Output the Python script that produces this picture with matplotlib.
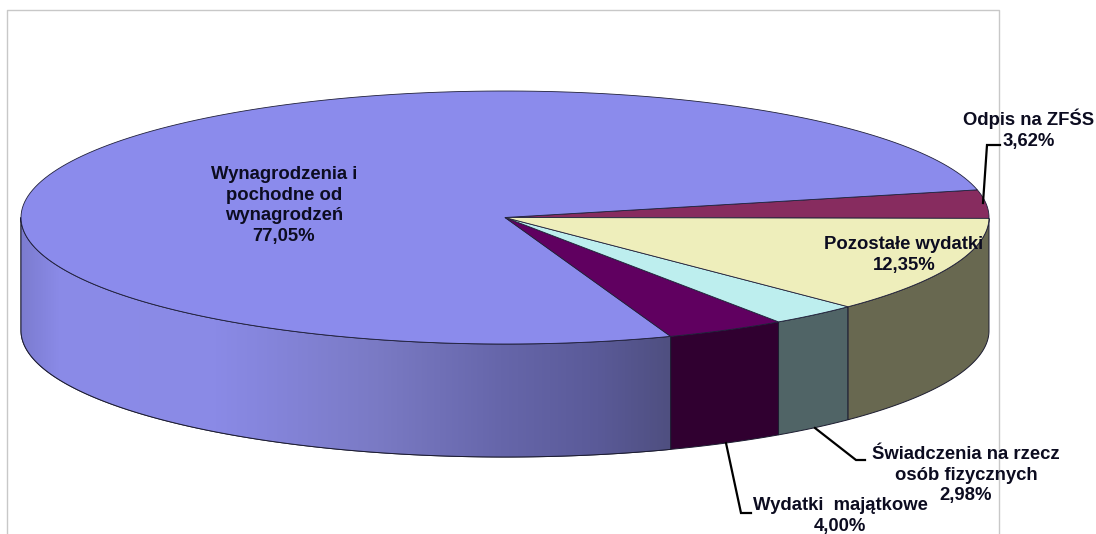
import numpy as np
import matplotlib
matplotlib.use("Agg")
import matplotlib.pyplot as plt
from matplotlib.colors import LinearSegmentedColormap
from matplotlib.patches import Polygon

plt.rcParams['font.family'] = ['Liberation Sans', 'DejaVu Sans']

# slices, counter-clockwise starting from the 3 o'clock direction
names = ["Odpis na ZFŚS", "Wynagrodzenia i\npochodne od\nwynagrodzeń",
         "Wydatki  majątkowe", "Świadczenia na rzecz\nosób fizycznych", "Pozostałe wydatki"]
values = [3.62, 77.05, 4.00, 2.98, 12.35]
value_labels = ["3,62%", "77,05%", "4,00%", "2,98%", "12,35%"]
top_colors = ["#872c5f", "#8b8bec", "#600060", "#bdeeee", "#eeeebb"]
side_colors = ["#431630", "#8b8bec", "#300030", "#506466", "#686850"]

# pie geometry in pixels
cx, cy = 505, 217.5
rx, ry = 484, 126.5
depth = 113
start_angle = -0.4


def rim(a0, a1, n=200):
    t = np.radians(np.linspace(a0, a1, n))
    return cx + rx * np.cos(t), cy - ry * np.sin(t)


fig = plt.figure(figsize=(10.96, 5.34), dpi=100)
ax = fig.add_axes([0, 0, 1, 1])
ax.set_xlim(0, 1096)
ax.set_ylim(534, 0)
ax.axis("off")

# chart frame (open at the bottom, the picture is cropped there)
ax.plot([7, 7, 999, 999], [534, 9.5, 9.5, 534], color="#c8c8c8", lw=1, zorder=1)

edges = start_angle + np.concatenate([[0], np.cumsum(values)]) * 3.6

# outer wall, only the part facing the viewer
for i in range(len(values)):
    a0, a1 = edges[i], edges[i + 1]
    # last slice runs through 360, the wall there is at the front
    lo, hi = max(a0, 180), min(a1, 360)
    if lo >= hi:
        continue
    x, y = rim(lo, hi)
    pts = np.vstack([np.column_stack([x, y]), np.column_stack([x, y + depth])[::-1]])
    poly = Polygon(pts, closed=True, facecolor=side_colors[i], edgecolor="#1c1c30", lw=0.7, zorder=2)
    ax.add_patch(poly)
    if names[i].startswith("Wynagrodzenia"):
        # the big wall fades towards the front
        cmap = LinearSegmentedColormap.from_list("wall", [
            (0.0, "#7c7cd0"), (0.06, "#8b8be8"), (0.3, "#8a8ae6"),
            (0.55, "#7a7ac4"), (0.74, "#6666aa"), (0.89, "#5a5a98"), (1.0, "#4f4f80")])
        x0, x1 = x.min(), x.max()
        im = ax.imshow(np.linspace(0, 1, 256).reshape(1, -1), cmap=cmap, aspect="auto",
                       extent=[x0, x1, 534, 0], zorder=2.1)
        im.set_clip_path(poly)
        ax.add_patch(Polygon(pts, closed=True, fill=False, edgecolor="#1c1c30", lw=0.7, zorder=2.2))
ax.set_xlim(0, 1096)
ax.set_ylim(534, 0)

# top face
for i in range(len(values)):
    x, y = rim(edges[i], edges[i + 1])
    pts = np.vstack([[cx, cy], np.column_stack([x, y])])
    ax.add_patch(Polygon(pts, closed=True, facecolor=top_colors[i], edgecolor="#20203a", lw=0.6, zorder=3))

# leader lines
line = dict(color="black", lw=1.6, zorder=4, solid_joinstyle="miter")
ax.plot([983, 987, 1000], [203, 145, 145], **line)
ax.plot([815, 856, 865], [428, 460, 460], **line)
ax.plot([726, 741, 751], [443, 513, 513], **line)

# labels
label_pos = [(1029, 129), (284, 205.5), (840, 516), (966, 475), (904, 255)]
for name, val, (lx, ly) in zip(names, value_labels, label_pos):
    ax.text(lx, ly, name + "\n" + val, ha="center", va="center", ma="center", fontsize=13.3,
            fontweight="bold", color="#0c0c20", linespacing=1.29, zorder=5)

fig.savefig("out.png", dpi=100)
